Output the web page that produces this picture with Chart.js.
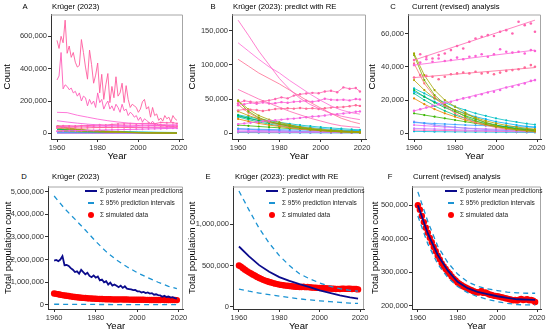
<!DOCTYPE html>
<html>
<head>
<meta charset="utf-8">
<script src="https://cdn.jsdelivr.net/npm/chart.js@4.4.1/dist/chart.umd.min.js"></script>
<style>
body{margin:0;background:#fff;width:550px;height:334px;position:relative;overflow:hidden;font-family:'Liberation Sans',Arial,sans-serif;}
canvas{position:absolute;}
.let{position:absolute;width:10px;text-align:center;font-size:7.7px;line-height:1;color:#000;}
.ttl{position:absolute;font-size:7.7px;line-height:1;color:#000;white-space:nowrap;}
.leg{position:absolute;font-size:6.5px;line-height:1;color:#222;white-space:nowrap;}
.key{position:absolute;}
</style>
</head>
<body>
<canvas id="cA"></canvas><canvas id="cB"></canvas><canvas id="cC"></canvas>
<canvas id="cD"></canvas><canvas id="cE"></canvas><canvas id="cF"></canvas>

<div class="let" style="left:20px;top:2.7px">A</div><div class="ttl" style="left:52px;top:2.7px">Krüger (2023)</div>
<div class="let" style="left:208px;top:2.7px">B</div><div class="ttl" style="left:233px;top:2.7px">Krüger (2023): predict with RE</div>
<div class="let" style="left:388px;top:2.7px">C</div><div class="ttl" style="left:412px;top:2.7px">Current (revised) analysis</div>
<div class="let" style="left:19px;top:173.2px">D</div><div class="ttl" style="left:52px;top:173.2px">Krüger (2023)</div>
<div class="let" style="left:203px;top:173.2px">E</div><div class="ttl" style="left:235px;top:173.2px">Krüger (2023): predict with RE</div>
<div class="let" style="left:385px;top:173.2px">F</div><div class="ttl" style="left:413px;top:173.2px">Current (revised) analysis</div>

<div id="legends"></div>

<script>
'use strict';
// years
let years = [];
for (let y = 1960; y <= 2019; y++) years.push(y);
let yrs5 = [1960, 1965, 1970, 1975, 1980, 1985, 1990, 1995, 2000, 2005, 2010, 2015, 2019];
let yrs3 = [1960, 1963, 1966, 1969, 1972, 1975, 1978, 1981, 1984, 1987, 1990, 1993, 1996, 1999, 2002, 2005, 2008, 2011, 2014, 2017, 2019];
let fitYears = [1960, 2019];
let xTicks = [1960, 1980, 2000, 2020];

// panel A big raw series (yearly)
let bigA1 = [575000, 525000, 600000, 560000, 700000, 495000, 540000, 470000, 500000, 440000,
  410000, 420000, 580000, 500000, 410000, 335000, 515000, 425000, 310000, 360000,
  435000, 250000, 365000, 210000, 300000, 370000, 190000, 290000, 220000, 350000,
  230000, 250000, 310000, 190000, 295000, 210000, 160000, 180000, 170000, 160000,
  130000, 150000, 195000, 210000, 150000, 165000, 100000, 160000, 110000, 120000,
  80000, 95000, 75000, 110000, 90000, 100000, 70000, 110000, 90000, 80000];
let bigA2 = [330000, 355000, 500000, 275000, 300000, 290000, 270000, 280000, 250000, 260000,
  230000, 250000, 200000, 230000, 220000, 170000, 210000, 180000, 200000, 160000,
  250000, 190000, 210000, 150000, 180000, 200000, 150000, 170000, 140000, 180000,
  160000, 130000, 180000, 140000, 150000, 110000, 130000, 120000, 100000, 110000,
  80000, 100000, 70000, 90000, 80000, 70000, 60000, 75000, 55000, 60000,
  50000, 55000, 45000, 50000, 40000, 45000, 40000, 42000, 38000, 40000];
let medA1 = [130000, 128000, 112000, 100000, 88000, 78000, 70000, 64000, 60000, 57000, 55000, 53000, 52000];
let medA2 = [78000, 70000, 63000, 57000, 52000, 48000, 45000, 42000, 40000, 38000, 37000, 36000, 35000];

// rising series (observed, every 3 years)
let rise1 = [44000, 47500, 46000, 45000, 47000, 48000, 50000, 52500, 51000, 55000, 57000, 58000, 59000, 58500, 61000, 62000, 60000, 67000, 65000, 66000, 61000];
let rise2 = [41000, 42500, 44500, 43000, 45000, 43500, 44000, 45500, 44500, 46000, 46500, 47500, 46000, 47500, 50500, 49000, 48500, 49000, 48000, 50000, 49500];
let rise3 = [33500, 35000, 34500, 34000, 32500, 34000, 35500, 36000, 36500, 36000, 37000, 36000, 36500, 35500, 36500, 37500, 38000, 38500, 39500, 41000, 40000];
let rise4 = [13500, 14500, 15500, 16500, 17500, 18500, 19000, 20000, 21000, 21500, 22500, 23500, 24500, 25000, 26000, 27500, 28000, 29000, 30000, 31500, 32000];
let riseFit1 = [44000, 68000];
let riseFit2 = [41000, 50000];
let riseFit3 = [33500, 39500];
let riseFit4 = [13500, 32000];

// declining series (every 5 years)
let decays = [
  [48000, 35000, 26000, 20000, 16000, 12500, 9000, 6500, 4500, 3200, 2300, 1700, 1300],
  [47000, 32000, 23000, 17500, 13500, 10000, 7500, 5500, 4000, 3000, 2200, 1600, 1200],
  [42000, 30000, 22000, 16500, 12000, 9000, 6500, 4800, 3500, 2500, 1800, 1300, 1000],
  [32000, 26000, 21000, 17000, 14000, 11500, 9500, 7500, 6000, 4800, 3800, 3000, 2500],
  [26000, 22000, 18500, 15500, 13000, 10500, 8500, 6500, 5000, 3700, 2700, 2000, 1500],
  [27000, 24000, 21000, 18500, 16000, 14000, 12000, 10500, 9000, 7800, 6800, 5800, 5200],
  [25000, 22000, 19000, 16500, 14000, 12000, 10000, 8500, 7000, 6000, 5000, 4200, 3700],
  [21000, 17500, 14500, 12000, 10000, 8000, 6500, 5200, 4200, 3300, 2700, 2100, 1800],
  [12000, 11000, 10000, 9000, 8000, 7000, 6000, 5000, 4200, 3500, 2800, 2300, 2000],
  [24000, 20000, 16500, 13500, 11000, 9000, 7300, 6000, 4800, 3900, 3200, 2600, 2200],
  [6500, 6200, 5900, 5600, 5300, 5000, 4800, 4600, 4400, 4200, 4000, 3800, 3700],
  [7000, 6000, 5000, 4300, 3700, 3100, 2700, 2300, 2000, 1700, 1500, 1300, 1100],
  [5000, 4600, 4200, 3800, 3500, 3200, 2900, 2700, 2500, 2300, 2100, 1900, 1800],
  [3000, 2800, 2600, 2400, 2200, 2000, 1800, 1700, 1600, 1500, 1400, 1300, 1200],
  [2000, 1900, 1800, 1700, 1600, 1500, 1400, 1300, 1200, 1100, 1000, 950, 900],
  [1200, 1100, 1000, 950, 900, 850, 800, 750, 700, 650, 600, 550, 500]
];
let decayColors = ['#a3a500', '#7cae00', '#f8766d', '#b79f00', '#00ba38', '#00bfc4', '#00b0f6', '#e58700',
  '#39b600', '#00c08b', '#35a2ff', '#9590ff', '#e76bf3', '#c77cff', '#ff62bc', '#00bcd8'];

// panel B: RE predictions for the big series
let predB1 = [165000, 143000, 120000, 100000, 80000, 64000, 51000, 42000, 35000, 29000, 25000, 22000, 20000];
let predB2 = [132000, 120000, 108000, 97000, 88000, 77000, 67000, 57000, 48000, 40000, 34000, 30000, 28000];
let predB3 = [108000, 98000, 88000, 80000, 72000, 63000, 54000, 45000, 37000, 29000, 22000, 17000, 14000];
let predB4 = [64000, 57000, 50000, 44000, 38000, 32000, 27000, 22000, 18000, 14000, 11000, 9500, 8500];

// totals (D, E, F)
let simTotal = [500000, 487000, 468000, 450000, 433000, 418000, 403000, 390000, 376000, 363000,
  350000, 339000, 327000, 318000, 310000, 302000, 296000, 288000, 281000, 276000,
  270000, 266000, 262000, 258000, 255000, 252000, 249000, 247000, 244000, 242000,
  240000, 241000, 245000, 239000, 240000, 237000, 234000, 233000, 231000, 230000,
  229000, 228000, 226000, 225000, 223000, 222000, 220000, 219000, 217000, 218000,
  216000, 219000, 221000, 218000, 219000, 220000, 217000, 218000, 216000, 212000];
let dMean = [1950000, 1980000, 1930000, 2000000, 2150000, 1750000, 1760000, 1720000, 1620000, 1550000,
  1450000, 1480000, 1380000, 1550000, 1450000, 1350000, 1420000, 1280000, 1220000, 1300000,
  1200000, 1250000, 1080000, 1120000, 1000000, 1050000, 900000, 980000, 850000, 900000,
  840000, 780000, 850000, 750000, 820000, 720000, 700000, 680000, 650000, 660000,
  600000, 600000, 550000, 570000, 520000, 550000, 500000, 520000, 450000, 470000,
  430000, 420000, 360000, 400000, 350000, 370000, 320000, 340000, 300000, 280000];
let dUpper = [4800000, 4250000, 3780000, 3300000, 2800000, 2350000, 1980000, 1680000, 1420000, 1200000, 1000000, 820000, 720000];
let dLower = [30000, 27000, 25000, 22000, 20000, 18000, 16000, 15000, 14000, 13000, 12000, 11000, 10000];
let eMean = [730000, 610000, 505000, 425000, 360000, 315000, 275000, 240000, 200000, 170000, 140000, 115000, 100000];
let eUpper = [1400000, 1170000, 950000, 770000, 620000, 500000, 400000, 340000, 290000, 250000, 220000, 200000, 190000];
let eLower = [215000, 190000, 168000, 148000, 130000, 113000, 98000, 85000, 74000, 64000, 55000, 47000, 42000];
let fMean = [500000, 416000, 352000, 306000, 272000, 253000, 242000, 235000, 229000, 224000, 220000, 219000, 218000];
let fUpper = [540000, 452000, 378000, 330000, 295000, 272000, 259000, 251000, 246000, 241000, 239000, 238000, 238000];
let fLower = [468000, 385000, 325000, 285000, 258000, 240000, 228000, 220000, 213000, 208000, 204000, 203000, 203000];

let legendLabels = ['\u03a3 posterior mean predictions', '\u03a3 95% prediction intervals', '\u03a3 simulated data'];

const NAVY = '#0b0b8c';
const SKY = '#1b93d3';
const RED = '#ff0000';

Chart.defaults.font.family = "'Liberation Sans', Arial, sans-serif";
Chart.defaults.font.size = 7.5;
Chart.defaults.color = '#333';

function pts(xs, ys) {
  return xs.map((x, i) => ({ x: x, y: ys[i] }));
}
function line(xs, ys, color, w, extra) {
  return Object.assign({ data: pts(xs, ys), showLine: true, borderColor: color, backgroundColor: color,
    borderWidth: w, pointRadius: 0, pointBorderWidth: 0 }, extra || {});
}
function dots(xs, ys, color, r) {
  return { data: pts(xs, ys), showLine: false, backgroundColor: color, borderColor: color,
    borderWidth: 0, pointBorderWidth: 0, pointRadius: r };
}

// grey top/right border of the panel
const frame = {
  id: 'frame',
  afterDraw(chart) {
    let a = chart.chartArea, g = chart.ctx;
    g.save();
    g.strokeStyle = '#a6a6a6';
    g.lineWidth = 1;
    g.beginPath();
    g.moveTo(a.left, a.top + 0.5);
    g.lineTo(a.right - 0.5, a.top + 0.5);
    g.lineTo(a.right - 0.5, a.bottom);
    g.stroke();
    g.restore();
  }
};

function makePanel(id, box, datasets, yRange, yTicks, yTitle) {
  let el = document.getElementById(id);
  el.style.left = box.left + 'px';
  el.style.top = box.top + 'px';
  el.width = box.w;
  el.height = box.h;
  return new Chart(el, {
    type: 'scatter',
    data: { datasets: datasets },
    plugins: [frame],
    options: {
      responsive: false, animation: false, devicePixelRatio: 1,
      layout: { padding: { left: box.padL, top: box.plotT - box.top, right: box.left + box.w - box.plotR, bottom: 0 } },
      plugins: { legend: { display: false }, tooltip: { enabled: false } },
      scales: {
        x: {
          type: 'linear', min: 1957.05, max: 2021.95,
          afterBuildTicks: s => { s.ticks = xTicks.map(v => ({ value: v })); },
          afterFit: s => { s.height = box.top + box.h - box.plotB; },
          ticks: { padding: 1, maxRotation: 0, autoSkip: false, color: '#333', callback: v => String(v) },
          grid: { drawOnChartArea: false, tickLength: 3, color: '#333' },
          border: { color: '#333' },
          title: { display: true, text: 'Year', font: { size: 9.5 }, color: '#000', padding: 0 }
        },
        y: {
          min: yRange[0], max: yRange[1],
          afterBuildTicks: s => { s.ticks = yTicks.map(v => ({ value: v })); },
          afterFit: s => { s.width = box.plotL - box.left - box.padL; },
          ticks: { padding: 1, autoSkip: false, color: '#333', callback: v => v.toLocaleString('en-US') },
          grid: { drawOnChartArea: false, tickLength: 3, color: '#333' },
          border: { color: '#333' },
          title: { display: true, text: yTitle, font: { size: 9.5 }, color: '#000', padding: 0 }
        }
      }
    }
  });
}

function decaySets(withDots) {
  return decays.map((d, i) => line(yrs5, d, decayColors[i], 0.8, withDots ? { pointRadius: 1.1 } : {}));
}

// A
let setsA = [
  line(years, bigA1, '#ff5c9e', 0.9),
  line(years, bigA2, '#ff5cb8', 0.9),
  line(yrs5, medA1, '#ff6ad5', 0.9),
  line(yrs5, medA2, '#f767e1', 0.9),
  line(yrs3, rise1, '#ff64b0', 1, { pointRadius: 1 }),
  line(yrs3, rise2, '#fc61d5', 1, { pointRadius: 1 }),
  line(yrs3, rise3, '#ff6a98', 1, { pointRadius: 1 }),
  line(yrs3, rise4, '#f564e3', 1, { pointRadius: 1 })
].concat(decaySets(false));
makePanel('cA', { left: 0, top: 9, w: 192, h: 153, padL: 2, plotL: 51, plotT: 14, plotR: 183, plotB: 139 },
  setsA, [-35000, 735000], [0, 200000, 400000, 600000], 'Count');

// B
let setsB = [
  line(yrs5, predB1, '#ff61c3', 0.8),
  line(yrs5, predB2, '#ff6ad5', 0.8),
  line(yrs5, predB3, '#ff6c91', 0.8),
  line(yrs5, predB4, '#ff64b0', 0.8),
  line(yrs3, rise1, '#ff64b0', 0.8, { pointRadius: 1.2 }),
  line(yrs3, rise2, '#fc61d5', 0.8, { pointRadius: 1.2 }),
  line(yrs3, rise3, '#ff6a98', 0.8, { pointRadius: 1.2 }),
  line(yrs3, rise4, '#f564e3', 0.8, { pointRadius: 1.2 })
].concat(decaySets(true));
makePanel('cB', { left: 185, top: 9, w: 190, h: 153, padL: 2, plotL: 232, plotT: 14, plotR: 366, plotB: 139 },
  setsB, [-8250, 173250], [0, 50000, 100000, 150000], 'Count');

// C
let setsC = [
  line(fitYears, riseFit1, '#ff64b0', 0.8),
  line(fitYears, riseFit2, '#fc61d5', 0.8),
  line(fitYears, riseFit3, '#ff6a98', 0.8),
  line(fitYears, riseFit4, '#f564e3', 0.8),
  dots(yrs3, rise1, '#ff64b0', 1.3),
  dots(yrs3, rise2, '#fc61d5', 1.3),
  dots(yrs3, rise3, '#ff6a98', 1.3),
  dots(yrs3, rise4, '#f564e3', 1.3)
].concat(decaySets(true));
makePanel('cC', { left: 365, top: 9, w: 185, h: 153, padL: 2, plotL: 408, plotT: 14, plotR: 541, plotB: 139 },
  setsC, [-3400, 71400], [0, 20000, 40000, 60000], 'Count');

function totalSets(mean, meanYears, upper, lower) {
  return [
    line(meanYears, mean, NAVY, 1.8),
    line(yrs5, upper, SKY, 1.3, { borderDash: [5, 4] }),
    line(yrs5, lower, SKY, 1.3, { borderDash: [5, 4] }),
    dots(years, simTotal, RED, 3.2)
  ];
}
makePanel('cD', { left: 1, top: 181, w: 192, h: 151, padL: 2, plotL: 48, plotT: 186, plotR: 183, plotB: 309 },
  totalSets(dMean, years, dUpper, dLower), [-180000, 5220000],
  [0, 1000000, 2000000, 3000000, 4000000, 5000000], 'Total population count');
makePanel('cE', { left: 185, top: 181, w: 189, h: 151, padL: 2, plotL: 233, plotT: 186, plotR: 364, plotB: 309 },
  totalSets(eMean, yrs5, eUpper, eLower), [-25000, 1455000],
  [0, 500000, 1000000], 'Total population count');
makePanel('cF', { left: 368, top: 181, w: 182, h: 151, padL: 2, plotL: 412, plotT: 186, plotR: 541, plotB: 309 },
  totalSets(fMean, yrs5, fUpper, fLower), [191000, 556000],
  [200000, 300000, 400000, 500000], 'Total population count');

// legends (keys + text) for D, E, F
let legendSpots = [{ kx: 91, tx: 100 }, { kx: 272, tx: 282 }, { kx: 451, tx: 460 }];
let rowsY = [191, 203, 215];
let legBox = document.getElementById('legends');
legendSpots.forEach(s => {
  let html = '';
  html += '<div class="key" style="left:' + (s.kx - 6) + 'px;top:' + (rowsY[0] - 1) + 'px;width:12px;height:2px;background:' + NAVY + '"></div>';
  html += '<div class="key" style="left:' + (s.kx - 3) + 'px;top:' + (rowsY[1] - 0.6) + 'px;width:6px;height:1.3px;background:' + SKY + '"></div>';
  html += '<div class="key" style="left:' + (s.kx - 3) + 'px;top:' + (rowsY[2] - 3) + 'px;width:6px;height:6px;border-radius:50%;background:' + RED + '"></div>';
  legendLabels.forEach((t, i) => {
    html += '<div class="leg" style="left:' + s.tx + 'px;top:' + (rowsY[i] - 3.3) + 'px">' + t + '</div>';
  });
  legBox.insertAdjacentHTML('beforeend', html);
});
</script>
</body>
</html>
